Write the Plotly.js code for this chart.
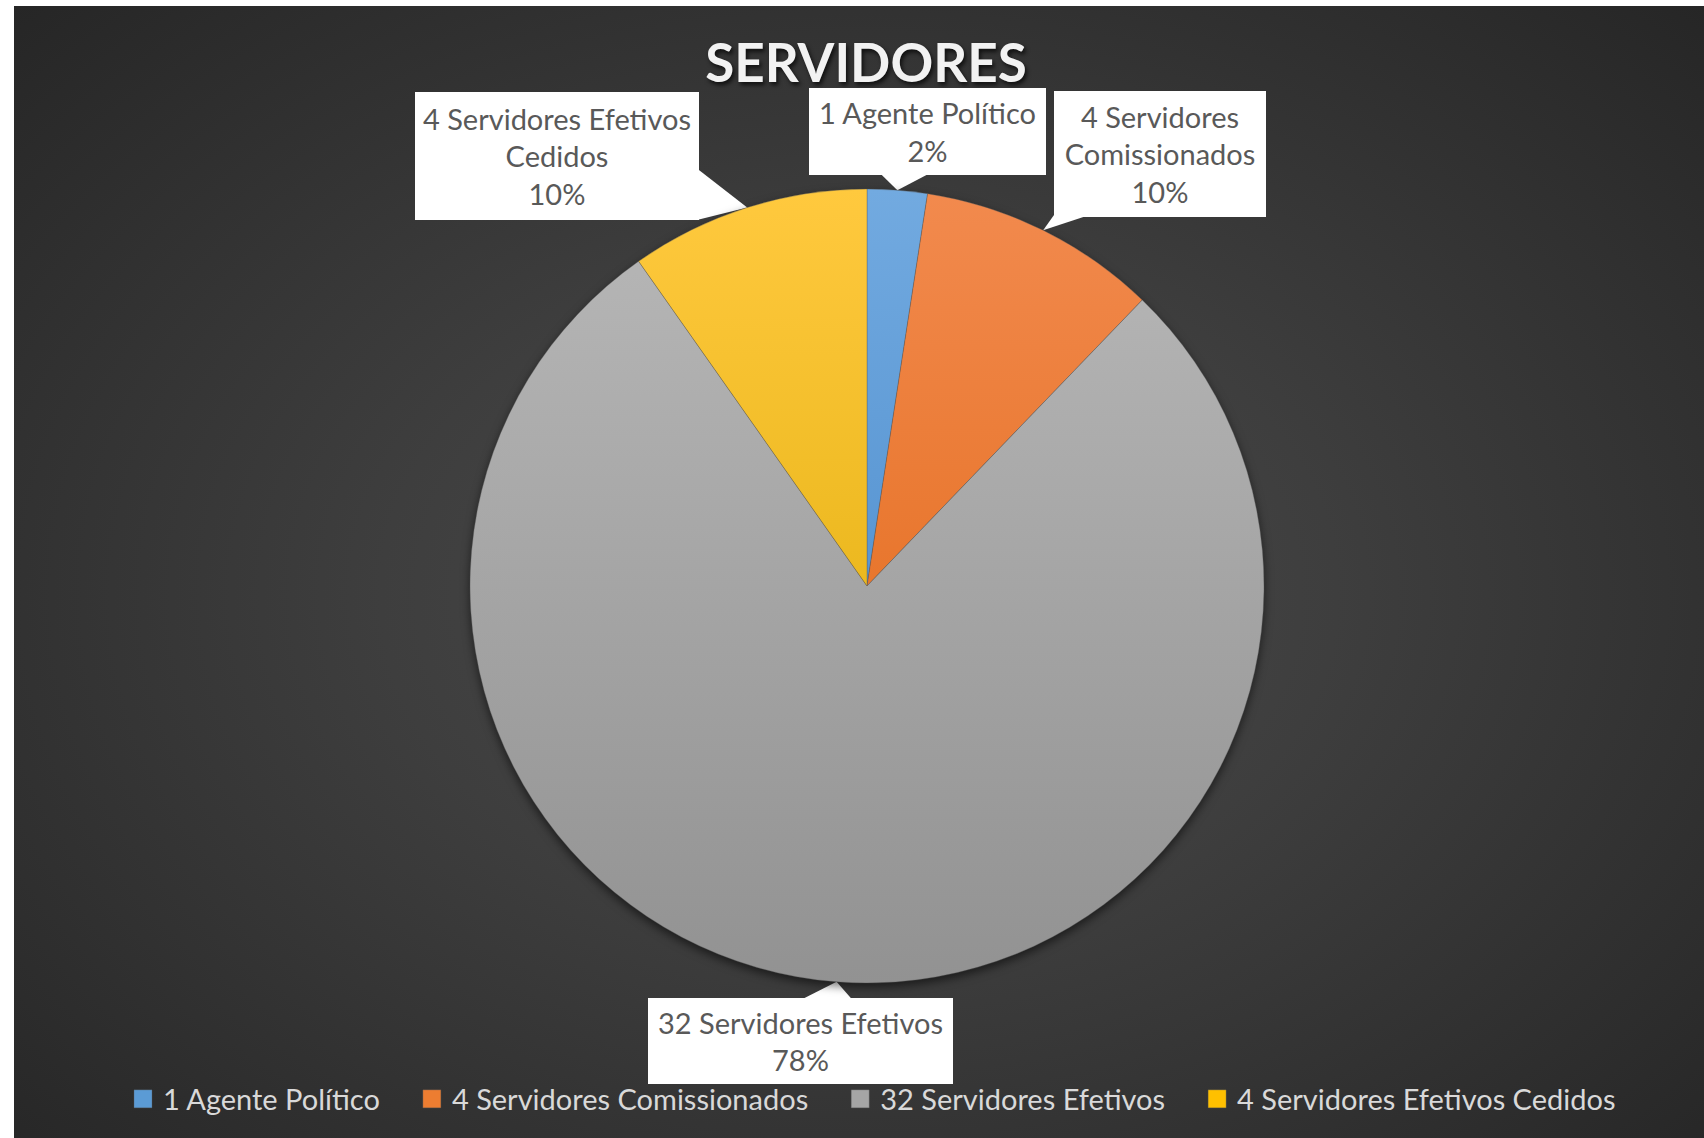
<!DOCTYPE html>
<html>
<head>
<meta charset="utf-8">
<script src="https://cdn.plot.ly/plotly-3.0.1.min.js"></script>
<style>
  body { margin: 0; background: #ffffff; }
  #frame {
    position: absolute; left: 14px; top: 6px; width: 1690px; height: 1132px;
    background: radial-gradient(ellipse farthest-corner at 50% 52%, #4b4b4b 0%, #3e3e3e 40%, #262626 100%);
  }
  #chart { position: absolute; left: 0; top: 0; width: 1704px; height: 1138px; }
  .pielayer { filter: drop-shadow(0px 4px 5px rgba(0, 0, 0, 0.55)); }
</style>
</head>
<body>
<div id="frame"></div>
<div id="chart"></div>
<script>
// chart data
const labels = ['1 Agente Político', '4 Servidores Comissionados', '32 Servidores Efetivos', '4 Servidores Efetivos Cedidos'];
const values = [1, 4, 32, 4];
const colors = ['#5b9bd5', '#ed7d31', '#a5a5a5', '#ffc000'];
// wrapped text for the callout boxes
const calloutLabels = ['1 Agente Político', '4 Servidores<br>Comissionados', '32 Servidores Efetivos', '4 Servidores Efetivos<br>Cedidos'];
const chartTitle = 'SERVIDORES';

// gradient stops (top, bottom) for each slice
const gradients = [['#72aae0', '#3d80c4'], ['#f28a4e', '#de620c'], ['#b8b8b8', '#929292'], ['#ffc93e', '#d9a800']];

const W = 1704, H = 1138;
const cx = 867, cy = 586, R = 397;

// callout box centre and size, in px
const boxes = [
  { x: 927, y: 131, w: 237, h: 87 },
  { x: 1160, y: 154, w: 212, h: 126 },
  { x: 800, y: 1041, w: 305, h: 86 },
  { x: 557, y: 156, w: 284, h: 128 }
];

const FONT = 'Lato, "Open Sans", sans-serif';
const LEGEND_GAP = 27; // extra space between legend entries

const px = x => x / W;
const py = y => 1 - y / H;

// tip of each callout = middle of the slice on the pie edge
function sliceTips() {
  const total = values.reduce((a, b) => a + b, 0);
  let cum = 0;
  return values.map(v => {
    const ang = 2 * Math.PI * (cum + v / 2) / total;
    cum += v;
    return { x: cx + R * Math.sin(ang), y: cy - R * Math.cos(ang), pct: Math.round(100 * v / total) + '%' };
  });
}

function calloutAnnotations(tips) {
  return tips.map((t, i) => {
    const b = boxes[i];
    return {
      xref: 'paper', yref: 'paper',
      x: px(b.x), y: py(b.y), xanchor: 'center', yanchor: 'middle',
      text: calloutLabels[i] + '<br>' + t.pct,
      showarrow: false,
      bgcolor: '#ffffff', borderpad: 0, borderwidth: 0,
      width: b.w, height: b.h, align: 'center', valign: 'middle',
      font: { family: FONT, size: 29, color: '#595959' }
    };
  });
}

// white wedge from the box edge to the slice
function calloutWedges(tips) {
  const half = 26;
  return tips.map((t, i) => {
    const b = boxes[i];
    const dx = t.x - b.x, dy = t.y - b.y;
    const sx = (b.w / 2) / Math.abs(dx || 1e-6), sy = (b.h / 2) / Math.abs(dy || 1e-6);
    let p1, p2;
    if (sy < sx) {
      // leaves through top or bottom edge
      const ex = b.x + dx * sy, ey = b.y + dy * sy - Math.sign(dy) * 2;
      const l = Math.max(b.x - b.w / 2, ex - half), r = Math.min(b.x + b.w / 2, ex + half);
      p1 = [l, ey]; p2 = [r, ey];
    } else {
      // leaves through left or right edge
      const ex = b.x + dx * sx - Math.sign(dx) * 2, ey = b.y + dy * sx;
      const top = Math.max(b.y - b.h / 2, ey - half), bot = Math.min(b.y + b.h / 2, ey + half);
      p1 = [ex, top]; p2 = [ex, bot];
    }
    const path = 'M' + px(t.x) + ',' + py(t.y) +
      'L' + px(p1[0]) + ',' + py(p1[1]) +
      'L' + px(p2[0]) + ',' + py(p2[1]) + 'Z';
    return {
      type: 'path', xref: 'paper', yref: 'paper', layer: 'below',
      path: path, fillcolor: '#ffffff', line: { width: 0 }
    };
  });
}

const tips = sliceTips();

const trace = {
  type: 'pie',
  labels: labels,
  values: values,
  sort: false,
  direction: 'clockwise',
  rotation: 0,
  textinfo: 'none',
  hoverinfo: 'none',
  marker: { colors: colors, line: { color: 'rgba(90,90,90,0.6)', width: 0.6 } },
  domain: {
    x: [(cx - R) / W, (cx + R) / W],
    y: [1 - (cy + R) / H, 1 - (cy - R) / H]
  }
};

const layout = {
  width: W, height: H,
  margin: { l: 0, r: 0, t: 0, b: 0 },
  paper_bgcolor: 'rgba(0,0,0,0)',
  plot_bgcolor: 'rgba(0,0,0,0)',
  title: {
    text: chartTitle,
    x: 866 / W, xanchor: 'center',
    y: 1 - 63 / H, yanchor: 'middle',
    font: { family: FONT, size: 53, weight: 'bold', color: '#f2f2f2', shadow: '2px 3px 4px rgba(0,0,0,0.7)' }
  },
  showlegend: true,
  legend: {
    orientation: 'h',
    x: 872 / W, xanchor: 'center',
    y: 1 - 1099 / H, yanchor: 'middle',
    font: { family: FONT, size: 29, color: '#d9d9d9' },
    bgcolor: 'rgba(0,0,0,0)'
  },
  shapes: calloutWedges(tips),
  annotations: calloutAnnotations(tips)
};

Plotly.newPlot('chart', [trace], layout, { displayModeBar: false, staticPlot: true }).then(gd => {
  // give slices the vertical gradient look of the original
  const svg = gd.querySelector('svg.main-svg');
  const defs = svg.querySelector('defs');
  const ns = 'http://www.w3.org/2000/svg';
  gradients.forEach((g, i) => {
    const lg = document.createElementNS(ns, 'linearGradient');
    lg.setAttribute('id', 'sliceGrad' + i);
    lg.setAttribute('gradientUnits', 'userSpaceOnUse');
    lg.setAttribute('x1', 0); lg.setAttribute('x2', 0);
    lg.setAttribute('y1', cy - R); lg.setAttribute('y2', cy + R);
    [[0, g[0]], [1, g[1]]].forEach(s => {
      const stop = document.createElementNS(ns, 'stop');
      stop.setAttribute('offset', s[0]);
      stop.setAttribute('stop-color', s[1]);
      lg.appendChild(stop);
    });
    defs.appendChild(lg);
  });
  gd.querySelectorAll('.pielayer .slice path.surface').forEach((p, i) => {
    p.style.fill = 'url(#sliceGrad' + i + ')';
  });
  // bigger legend squares
  gd.querySelectorAll('.legend .legendpoints path').forEach(p => {
    p.setAttribute('d', 'M9,9H-9V-9H9Z');
  });
  // spread the legend entries a bit, keeping it centred
  gd.querySelectorAll('.legend [clip-path]').forEach(el => el.removeAttribute('clip-path'));
  const items = gd.querySelectorAll('.legend .traces');
  const shift0 = -LEGEND_GAP * (items.length - 1) / 2;
  items.forEach((it, i) => {
    const m = /translate\(([-\d.]+),\s*([-\d.]+)\)/.exec(it.getAttribute('transform') || '');
    if (!m) return;
    const x = parseFloat(m[1]) + shift0 + i * LEGEND_GAP;
    it.setAttribute('transform', 'translate(' + x + ',' + m[2] + ')');
  });
});
</script>
</body>
</html>
